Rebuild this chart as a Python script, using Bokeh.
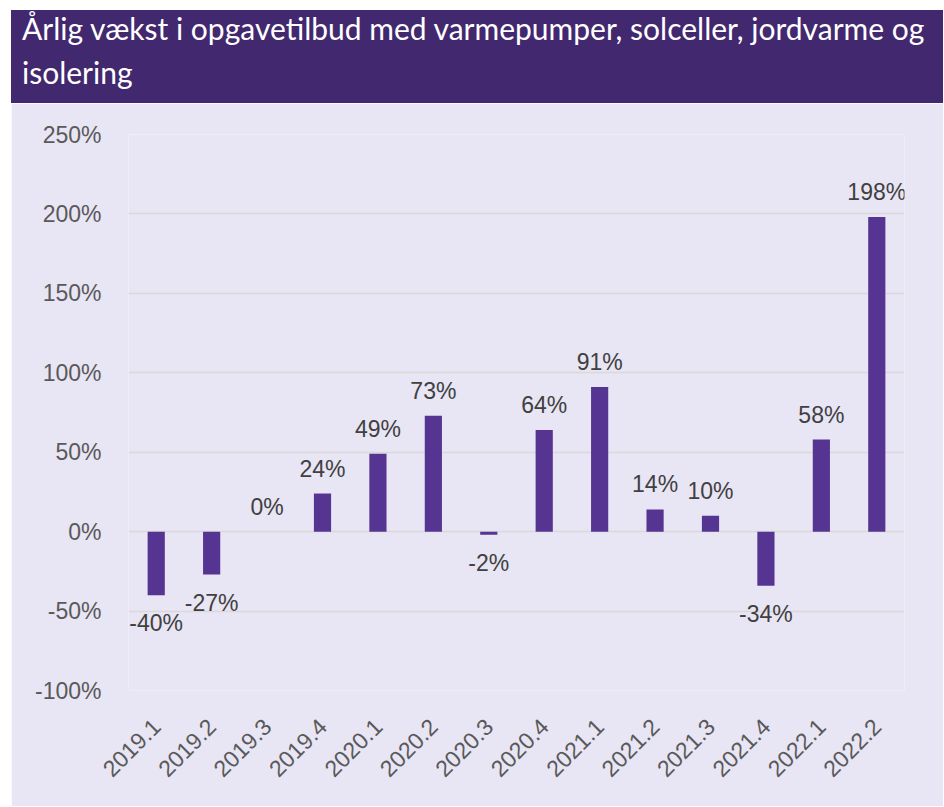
from bokeh.plotting import figure
from bokeh.models import ColumnDataSource, Range1d, FactorRange, FixedTicker, PrintfTickFormatter, Div
from bokeh.layouts import column
from bokeh.embed import file_html
from bokeh.resources import INLINE
from bokeh.core.properties import value
import math

# ---- data ----
title_lines = ["Årlig vækst i opgavetilbud med varmepumper, solceller, jordvarme og",
               "isolering"]
categories = ["2019.1", "2019.2", "2019.3", "2019.4", "2020.1", "2020.2", "2020.3",
              "2020.4", "2021.1", "2021.2", "2021.3", "2021.4", "2022.1", "2022.2"]
growth = [-40, -27, 0, 24, 49, 73, -2, 64, 91, 14, 10, -34, 58, 198]
y_ticks = [-100, -50, 0, 50, 100, 150, 200, 250]

# ---- styles ----
PURPLE_DARK = "#42286e"
LAVENDER = "#e8e5f5"
BAR = "#553492"
GRID = "#d9d9d9"
W = 932

# ---- title block ----
title = Div(
    text=('<div style="margin-top:-4px;line-height:44px;white-space:nowrap">'
          + "<br>".join(title_lines) + "</div>"),
    width=W, height=93, margin=0,
    styles={"background-color": PURPLE_DARK, "color": "white",
            "font-family": "Lato, 'Open Sans', sans-serif", "font-size": "30px",
            "padding-left": "11px", "box-sizing": "border-box", "overflow": "hidden"},
)

# ---- chart ----
p = figure(width=W, height=703, x_range=FactorRange(*categories),
           y_range=Range1d(-100, 250), output_backend="svg", toolbar_location=None,
           min_border_left=117, min_border_right=39, min_border_top=31,
           min_border_bottom=116, margin=0)
p.background_fill_color = LAVENDER
p.border_fill_color = LAVENDER
p.outline_line_color = None

src = ColumnDataSource(dict(x=categories, top=growth))
p.vbar(x="x", top="top", bottom=0, width=0.31, source=src,
       fill_color=BAR, line_color=None)

pos = [(c, v) for c, v in zip(categories, growth) if v >= 0]
neg = [(c, v) for c, v in zip(categories, growth) if v < 0]
psrc = ColumnDataSource(dict(x=[c for c, _ in pos], y=[v for _, v in pos],
                             t=[f"{v}%" for _, v in pos]))
nsrc = ColumnDataSource(dict(x=[c for c, _ in neg], y=[v for _, v in neg],
                             t=[f"{v}%" for _, v in neg]))
for s, off in ((psrc, -25), (nsrc, 28)):
    p.text(x="x", y="y", text="t", source=s, y_offset=off,
           text_align="center", text_baseline="alphabetic",
           text_font=value("Liberation Sans"), text_font_size="23px",
           text_color="#404040")

p.xgrid.visible = False
p.ygrid.grid_line_color = GRID
p.ygrid.grid_line_width = 1.5
p.yaxis.ticker = FixedTicker(ticks=y_ticks)
p.yaxis.formatter = PrintfTickFormatter(format="%d%%")
p.ygrid.ticker = FixedTicker(ticks=y_ticks)

for ax in (p.xaxis, p.yaxis):
    ax.axis_line_color = None
    ax.major_tick_line_color = None
    ax.minor_tick_line_color = None
    ax.major_label_text_font = "Liberation Sans"
    ax.major_label_text_font_size = "23px"
    ax.major_label_text_color = "#595959"
p.yaxis.major_label_standoff = 21
p.xaxis.major_label_standoff = 26
p.xaxis.major_label_orientation = math.pi / 4

layout = column(title, p, spacing=0, margin=(10, 0, 0, 11))
open("out.html", "w").write(file_html(layout, INLINE))
